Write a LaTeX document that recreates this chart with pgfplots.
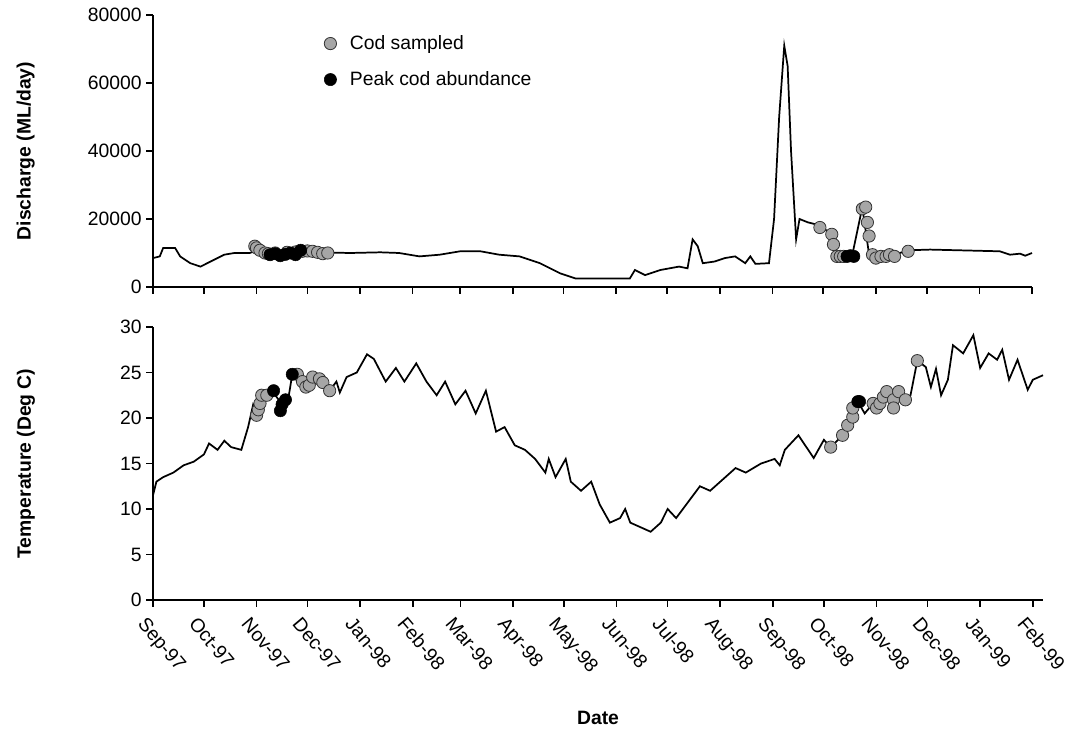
\documentclass[border=0pt]{standalone}
\usepackage{pgfplots}
\pgfplotsset{compat=1.18}
\usepackage{fontspec}
\setmainfont{Liberation Sans}
\begin{document}
\begin{tikzpicture}
\useasboundingbox (-114.75pt,-98.25pt) rectangle (697.5pt,450pt);
\pgfplotsset{
 common/.style={scale only axis, axis lines*=left, axis line style={line width=1.2pt}, major tick style={line width=1.2pt,black}, tick align=outside, major tick length=5pt,
 ticklabel style={font=\fontsize{14.5}{16}\selectfont}, label style={font=\bfseries\fontsize{14.5}{16}\selectfont},
 /pgf/number format/assume math mode=true, scaled y ticks=false, yticklabel style={/pgf/number format/1000 sep={}},
 xtick={0,30,61,91,122,153,181,212,242,273,303,334,365,395,426,456,487,518}, xmin=0, clip=false},
 cod/.style={only marks, mark=*, mark size=4.6pt, mark options={fill=gray!70, draw=black!80, line width=0.6pt}},
 peak/.style={only marks, mark=*, mark size=4.6pt, mark options={fill=black, draw=black}},
}
\begin{axis}[common, at={(0pt,234.75pt)}, anchor=south west, width=659.25pt, height=204pt, xmax=518, ymin=0, ymax=80000,
 ytick={0,20000,40000,60000,80000}, xticklabels={}, ylabel={Discharge (ML/day)}, ylabel style={yshift=33pt},
 legend style={at={(0.19,0.945)}, anchor=north west, draw=none, fill=none, font=\fontsize{14.5}{16}\selectfont, row sep=11pt, nodes={inner xsep=10pt}}, legend cell align=left]
\addplot[black, line width=1.3pt, forget plot] coordinates {(0,8500)(4,9000)(6,11500)(13,11500)(16,9000)(22,7000)(28,6000)(34,7500)(42,9500)(48,10000)(57,10000)(63,11000)(81,10000)(98,10200)(116,10000)(134,10200)(145,10000)(157,9000)(169,9500)(181,10500)(193,10500)(204,9500)(216,9000)(228,7000)(240,4000)(249,2500)(263,2500)(281,2500)(284,5000)(290,3500)(299,5000)(310,6000)(315,5500)(318,14000)(321,12000)(324,7000)(331,7500)(337,8500)(343,9000)(349,7000)(352,9000)(355,6800)(363,7000)(366,20000)(369,50000)(372,71000)(374,65000)(376,40000)(379,14000)(381,20000)(386,19000)(390,18500)(394,17500)(399,16000)(401,13000)(403,9000)(412,9200)(418,23500)(422,9500)(426,8500)(437,9500)(445,10800)(458,11000)(499,10500)(505,9500)(511,9800)(514,9200)(518,10000)};
\addplot[cod] coordinates {(60,12000)(61,11500)(63,10800)(66,10000)(68,9800)(72,10000)(79,10200)(84,10300)(88,10500)(91,10600)(94,10500)(97,10200)(100,9800)(103,10000)(393,17500)(400,15500)(401,12500)(403,9000)(405,9000)(407,9000)(418,23000)(420,23500)(421,19000)(422,15000)(424,9500)(426,8500)(429,9000)(432,9000)(434,9500)(437,9000)(445,10500)};
\addlegendentry{Cod sampled}
\addplot[peak] coordinates {(69,9500)(72,9800)(75,9200)(78,9600)(81,10000)(84,9500)(87,10800)(409,9000)(411,9200)(413,9000)};
\addlegendentry{Peak cod abundance}
\end{axis}
\begin{axis}[common, at={(0pt,0pt)}, anchor=south west, width=667.5pt, height=204.75pt, xmax=524, ymin=0, ymax=30,
 ytick={0,5,...,30}, ylabel={Temperature (Deg C)}, ylabel style={yshift=57pt}, xlabel={Date}, xlabel style={yshift=-18pt},
 xticklabels={Sep-97,Oct-97,Nov-97,Dec-97,Jan-98,Feb-98,Mar-98,Apr-98,May-98,Jun-98,Jul-98,Aug-98,Sep-98,Oct-98,Nov-98,Dec-98,Jan-99,Feb-99},
 xticklabel style={rotate=-50, anchor=north west, xshift=-1pt, yshift=-4pt}]
\addplot[black, line width=1.3pt] coordinates {(0,11.5)(2,13)(6,13.5)(12,14)(18,14.8)(24,15.2)(30,16)(33,17.2)(38,16.5)(42,17.5)(46,16.8)(52,16.5)(56,19)(59,21.5)(62,20.5)(65,22)(70,23)(74,22)(78,21.5)(80,22.5)(82,24.8)(86,24.5)(92,23.5)(98,24)(104,23)(108,24)(110,22.8)(114,24.5)(120,25)(126,27)(130,26.5)(137,24)(143,25.5)(148,24)(155,26)(161,24)(167,22.5)(172,24)(178,21.5)(184,23)(190,20.5)(196,23)(202,18.5)(207,19)(213,17)(219,16.5)(225,15.5)(231,14)(233,15.5)(237,13.5)(243,15.5)(246,13)(252,12)(258,13)(263,10.5)(269,8.5)(275,9)(278,10)(281,8.5)(287,8)(293,7.5)(299,8.5)(303,10)(308,9)(316,11)(322,12.5)(328,12)(334,13)(343,14.5)(349,14)(358,15)(366,15.5)(369,14.8)(372,16.5)(380,18.1)(389,15.6)(395,17.6)(399,16.8)(406,18.1)(412,20.1)(415,21.8)(419,20.5)(424,21.6)(428,22)(432,22.9)(436,21.1)(439,22.9)(443,22)(446,22.5)(450,26.3)(455,25.6)(458,23.4)(461,25.4)(464,22.5)(468,24.2)(471,28)(477,27.1)(483,29.1)(487,25.5)(492,27.1)(497,26.4)(500,27.5)(504,24.2)(509,26.4)(515,23.1)(518,24.2)(524,24.7)};
\addplot[cod] coordinates {(61,20.3)(62,20.9)(63,21.6)(64,22.5)(67,22.5)(85,24.8)(88,24)(90,23.4)(92,23.6)(94,24.5)(98,24.3)(100,23.9)(104,23)(399,16.8)(406,18.1)(409,19.2)(412,20.1)(412,21.1)(424,21.6)(426,21.1)(428,21.6)(430,22.3)(432,22.9)(436,22)(436,21.1)(439,22.9)(443,22)(450,26.3)};
\addplot[peak] coordinates {(71,23)(75,20.8)(76,21.5)(78,22)(82,24.8)(415,21.8)(416,21.8)};
\end{axis}
\end{tikzpicture}
\end{document}
